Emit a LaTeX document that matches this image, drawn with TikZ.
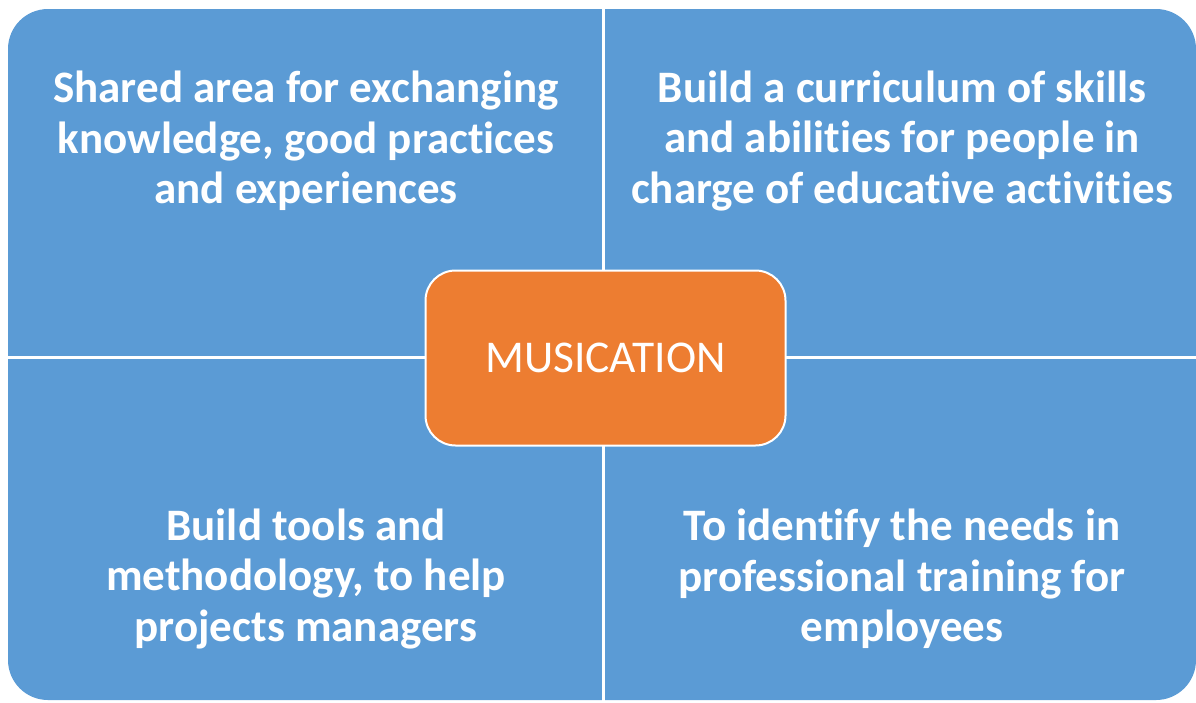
\documentclass[tikz,border=0pt]{standalone}
\usepackage{fontspec}
\setmainfont[Ligatures=NoCommon]{Carlito}
\definecolor{quadblue}{HTML}{5B9BD5}
\definecolor{huborange}{HTML}{ED7D31}
\begin{document}
\begin{tikzpicture}[x=1pt,y=-1pt,
  quadtext/.style={text=white,font=\fontsize{45}{50.5}\selectfont\bfseries,align=center,inner sep=0pt},
  hub/.style={draw=white,line width=2pt,fill=huborange,rounded corners=30pt,
    minimum width=360pt,minimum height=175pt,text=white,
    font=\fontsize{45.5}{52}\selectfont},
  divider/.style={white,line width=3pt}]
\useasboundingbox (0,0) rectangle (1196,702);
% blue field split into four quadrants
\fill[quadblue,rounded corners=40pt] (8,9) rectangle (1196,700);
\coordinate (vtop) at (603,9);
\coordinate (vbot) at (603,702);
\coordinate (hl) at (8,357);
\coordinate (hr) at (1196,357);
\draw[divider] (vtop) -- (vbot);
\draw[divider] (hl) -- (hr);
% central hub
\node[hub] (hubnode) at (605.5,358) {MUSICATION};
% quadrant texts
\node[quadtext] (tl) at (306,141) {Shared area for exchanging\\knowledge, good practices\\and experiences};
\node[quadtext] (tr) at (902,141) {Build a curriculum of skills\\and abilities for people in\\charge of educative activities};
\node[quadtext] (bl) at (306,579) {Build tools and\\methodology, to help\\projects managers};
\node[quadtext] (br) at (902,579) {To identify the needs in\\professional training for\\employees};
\end{tikzpicture}
\end{document}
